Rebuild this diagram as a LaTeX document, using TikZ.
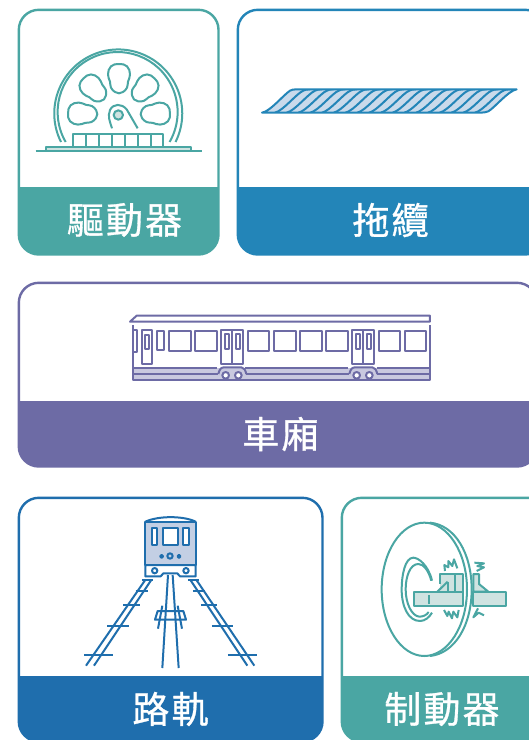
\documentclass[tikz,border=0pt]{standalone}
\usepackage{fontspec}
\newfontfamily\cjk[LetterSpace=6,FakeBold=0.8]{Noto Sans CJK TC}
\definecolor{teal1}{HTML}{4AA6A3}
\definecolor{tealL}{HTML}{CFE3E1}
\definecolor{blue1}{HTML}{2385B8}
\definecolor{blueL}{HTML}{C9DAEB}
\definecolor{purp}{HTML}{6D6BA5}
\definecolor{purpL}{HTML}{C9C9DF}
\definecolor{blue2}{HTML}{1F6EAD}
\definecolor{blue2L}{HTML}{C3CFE4}
\tikzset{
  lbl/.style={text=white,font=\cjk\fontsize{37}{37}\selectfont,anchor=center,inner sep=0pt},
  ln/.style={line width=2pt,line join=round},
}
\newcommand{\card}[6]{% x1,y1,x2,y2,band y,colour
  \begin{scope}
    \clip[rounded corners=20pt] (#1,#2) rectangle (#3,#4);
    \fill[white] (#1,#2) rectangle (#3,#5);
    \fill[#6] (#1,#5) rectangle (#3,#4);
  \end{scope}
  \draw[#6,line width=2.4pt,rounded corners=20pt] (#1,#2) rectangle (#3,#4);
}
\newcommand{\cableoutline}{(66,128) .. controls (90,125) and (130,75) .. (150,62) .. controls (155,59) and (160,58) .. (170,58) -- (830,58) .. controls (805,62) and (765,112) .. (745,124) .. controls (738,127) and (730,128) .. (720,128) -- cycle}
\begin{document}
\begin{tikzpicture}[x=1pt,y=-1pt]
\useasboundingbox (0,0) rectangle (529,740);
\clip (0,0) rectangle (529,740);
\fill[white] (0,0) rectangle (529,740);
\card{18.8}{9.8}{218.5}{254.5}{187}{teal1}
\card{237.8}{9.8}{545}{254.5}{187}{blue1}
\card{18.8}{282.8}{537}{466.5}{401}{purp}
\card{18.8}{497.8}{322.5}{741.5}{676}{blue2}
\card{341.8}{497.8}{560}{741.5}{676}{teal1}
\node[lbl] (ta) at (124.5,220) {驅動器};
\node[lbl] (tb) at (390.5,220) {拖纜};
\node[lbl] (tc) at (280.5,434) {車廂};
\node[lbl] (td) at (170.5,709) {路軌};
\node[lbl] (te) at (442,709) {制動器};

% gear
\begin{scope}[shift={(20,20)},scale=1/3,teal1,ln]
  \draw (123,366) arc[start angle=206.5,end angle=-26.5,radius=192,y radius=-192] ;
  \draw (137,366) arc[start angle=210,end angle=-30,radius=180,y radius=-180] ;
  \foreach \a in {-88,-44,0,44,88}{
    \begin{scope}[shift={(297,285)},rotate=\a]
      \draw plot[smooth cycle,tension=0.75] coordinates {(0,-153)(24,-146)(33,-122)(27,-100)(24,-82)(12,-69)(0,-65)(-12,-69)(-24,-82)(-27,-100)(-33,-122)(-24,-146)};
    \end{scope}
  }
  \draw[fill=tealL] (295,285) circle (14);
  \draw (276,325) .. controls (270,305) and (262,290) .. (270,270) .. controls (280,250) and (305,250) .. (320,268) -- (353,325);
  \fill[white] (160,343) rectangle (430,382);
  \draw (160,382) -- (160,343) -- (430,343) -- (430,382);
  \foreach \x in {199,238,277,315,353,392}{\draw (\x,343) -- (\x,382);}
  \draw[fill=tealL] (78,381) rectangle (513,393);
  \draw (47,393) -- (545,393);
\end{scope}

% cable
\begin{scope}[shift={(240,70)},scale=1/3,blue1,ln]
  \path[fill=blueL] \cableoutline;
  \begin{scope}
    \clip \cableoutline;
    \foreach \i in {0,...,19}{
      \pgfmathsetmacro{\xx}{105+\i*35.3}
      \draw (\xx,128) .. controls (\xx+25,122) and (\xx+65,70) .. (\xx+85,62) .. controls (\xx+90,59) and (\xx+95,58) .. (\xx+105,58);
    }
  \end{scope}
  \draw \cableoutline;
\end{scope}

% train car
\begin{scope}[shift={(120,305)},scale=1/3,purp,ln]
  \fill[purpL] (40,190) rectangle (930,225);
  \draw (30,50) -- (50,32) -- (930,32) -- (930,50) -- cycle;
  \draw (40,60) -- (40,225) -- (930,225) -- (930,60);
  \draw (40,75) -- (51,75) -- (51,140) -- (40,140);
  \draw (65,75) rectangle (97,177);
  \draw (75,90) rectangle (87,132);
  \draw (110,78) rectangle (132,135);
  \foreach \x in {147,226,383,462,541,619,776,854}{\draw (\x,78) rectangle (\x+65,139);}
  \draw (40,190) -- (292,190);
  \draw (40,207) -- (295,207);
  \draw (376,190) -- (685,190);
  \draw (378,207) -- (688,207);
  \draw (770,190) -- (930,190);
  \draw (772,207) -- (930,207);
  \foreach \x in {304,697}{
    \draw (\x,75) rectangle (\x+66,177);
    \draw (\x+33,75) -- (\x+33,177);
    \draw (\x+10,88) rectangle (\x+22,132);
    \draw (\x+43,88) rectangle (\x+55,132);
    \draw (\x-9,207) .. controls (\x-6,195) and (\x-2,187) .. (\x+8,187) -- (\x+60,187) .. controls (\x+68,187) and (\x+72,195) .. (\x+75,207);
    \draw[fill=white] (\x+13,211) circle (10);
    \draw[fill=white] (\x+51,211) circle (10);
  }
  \draw (40,225) -- (930,225);
\end{scope}

% track
\begin{scope}[shift={(70,505)},scale=1/3,blue2,ln]
  \draw (226,50) .. controls (265,32) and (340,32) .. (377,50);
  \draw[fill=blue2L] (226,50) rectangle (377,180);
  \draw[fill=white] (245,68) rectangle (262,119);
  \draw[fill=white] (280,68) rectangle (323,120);
  \draw[fill=white] (340,68) rectangle (358,119);
  \draw[fill=blue2] (275,154) circle (4.5);
  \draw[fill=blue2] (327,154) circle (4.5);
  \draw (300,153) circle (8);
  \draw[fill=white] (226,180) -- (377,180) -- (377,214) -- (330,214) -- (322,205) -- (280,205) -- (272,214) -- (226,214) -- cycle;
  \draw (254,197) circle (8);
  \draw (348,197) circle (8);
  % rails
  \draw (225,226) -- (48,482);
  \draw (243,226) -- (72,482);
  \draw (362,226) -- (532,482);
  \draw (380,226) -- (553,482);
  \draw (294,210) -- (277,489);
  \draw (308,210) -- (326,489);
  \draw (216,226) -- (248,226);
  \draw (354,226) -- (388,226);
  \draw (197,257) -- (233,257);
  \draw (369,257) -- (405,257);
  \draw (160,301) -- (210,301);
  \draw (393,301) -- (442,301);
  \draw (112,362) -- (176,362);
  \draw (426,362) -- (490,362);
  \draw (43,449) -- (128,449);
  \draw (474,449) -- (560,449);
  % bracket
  \draw (255,344) -- (263,318) -- (340,318) -- (348,344) -- cycle;
  \draw (264,371) -- (277,302);
  \draw (336,371) -- (323,302);
\end{scope}

% brake
\begin{scope}[shift={(360,510)},scale=1/3,teal1,ln]
  \draw (210,38) .. controls (285,45) and (335,130) .. (335,238) .. controls (335,345) and (285,430) .. (210,438);
  \draw (193,238) ellipse (128 and 200);
  \draw (216,212) .. controls (205,165) and (175,143) .. (160,143) .. controls (135,143) and (125,195) .. (125,238) .. controls (125,290) and (145,333) .. (180,333) .. controls (195,333) and (208,322) .. (216,308);
  \draw (214,212) .. controls (205,180) and (190,162) .. (175,162) .. controls (150,162) and (137,200) .. (137,238) .. controls (137,280) and (155,318) .. (178,320) .. controls (190,320) and (200,315) .. (206,306);
  \path[fill=tealL] (241,192) rectangle (309,245);
  \draw (232,245) -- (263,215);
  \draw (241,221) -- (241,192) -- (309,192) -- (309,245);
  \draw (285,192) -- (285,245);
  \draw (263,215) -- (263,245);
  \draw[fill=tealL] (340,245) -- (340,192) -- (357,192) -- (357,222) -- (385,245) -- cycle;
  \draw[fill=tealL] (161,245) -- (309,245) -- (309,289) -- (161,289) -- cycle;
  \draw[fill=tealL] (340,245) -- (439,245) -- (439,289) -- (340,289) -- cycle;
  \draw (207,255) -- (207,281);
  \draw (255,183) -- (253,165) -- (265,172) -- (265,153) -- (277,168) -- (282,148) -- (292,175);
  \draw (343,158) -- (372,160) -- (352,168) -- (372,172) -- (350,183);
  \draw (252,300) -- (262,318) -- (266,305) -- (276,325) -- (280,305) -- (292,322) -- (296,300);
  \draw (354,295) -- (340,322) -- (356,308) -- (372,316);
\end{scope}
\end{tikzpicture}
\end{document}
